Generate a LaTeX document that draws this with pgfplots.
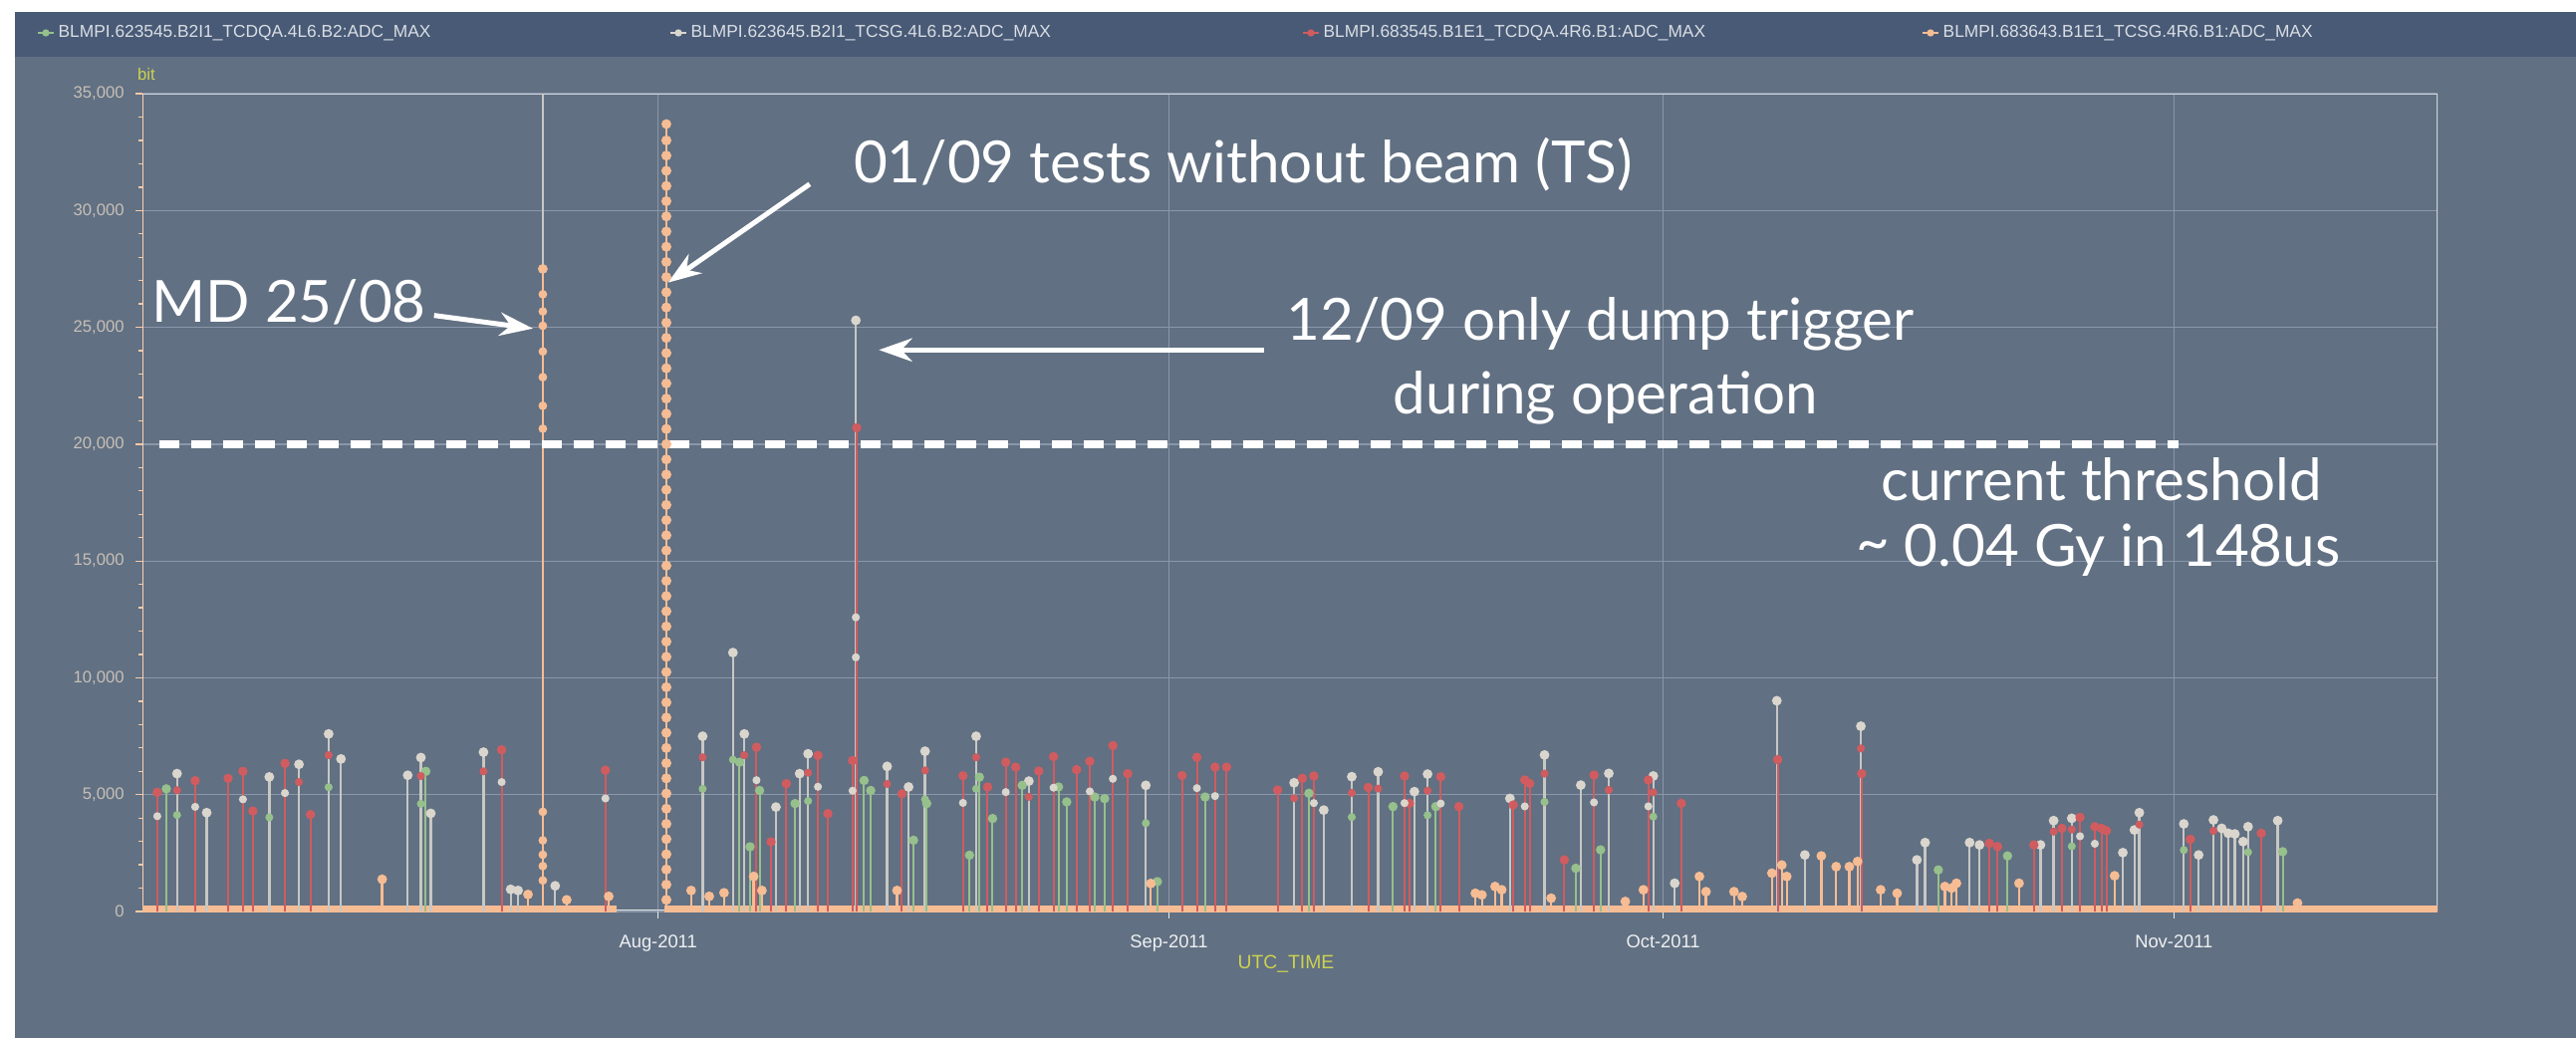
\documentclass[border=0pt]{standalone}
\usepackage{pgfplots}
\pgfplotsset{compat=1.18}
\usetikzlibrary{arrows.meta}
\usepackage{fontspec}
\setmainfont{Liberation Sans}
\newfontfamily\annot{Lato}
\definecolor{slate}{RGB}{97,112,130}
\definecolor{barblue}{RGB}{72,90,118}
\definecolor{gridc}{RGB}{138,151,170}
\definecolor{serW}{RGB}{218,214,206}
\definecolor{serR}{RGB}{208,92,96}
\definecolor{serG}{RGB}{150,192,140}
\definecolor{serO}{RGB}{246,188,148}
\definecolor{labc}{RGB}{205,210,80}
\definecolor{tickc}{RGB}{200,192,184}
\definecolor{framec}{RGB}{205,210,220}
\begin{document}
\begin{tikzpicture}
\useasboundingbox (0,0) rectangle (2586*0.3pt,-1042*0.3pt);
\fill[white] (0,0) rectangle (2586*0.3pt,-1042*0.3pt);
\fill[slate] (15*0.3pt,-12*0.3pt) rectangle (2586*0.3pt,-1042*0.3pt);
\fill[barblue] (15*0.3pt,-12*0.3pt) rectangle (2586*0.3pt,-57*0.3pt);
% legend
\foreach \xm/\col/\txt in {46/serG/{BLMPI.623545.B2I1\_TCDQA.4L6.B2:ADC\_MAX},
                           681/serW/{BLMPI.623645.B2I1\_TCSG.4L6.B2:ADC\_MAX},
                           1316/serR/{BLMPI.683545.B1E1\_TCDQA.4R6.B1:ADC\_MAX},
                           1938/serO/{BLMPI.683643.B1E1\_TCSG.4R6.B1:ADC\_MAX}}{
  \draw[\col, line width=0.8pt] (\xm*0.3pt-2.4pt,-33*0.3pt) -- (\xm*0.3pt+2.4pt,-33*0.3pt);
  \fill[\col] (\xm*0.3pt,-33*0.3pt) circle (1.1pt);
  \node[anchor=west, inner sep=0pt, text=white!80!barblue, font=\fontsize{5.2}{6}\selectfont] at (\xm*0.3pt+3.6pt,-33*0.3pt) {\txt};
}
\begin{axis}[
  at={(143*0.3pt,-915*0.3pt)}, anchor=south west,
  scale only axis, width=691.2pt, height=246.3pt,
  xmin=-31.3, xmax=108, ymin=0, ymax=35000,
  xtick={0,31,61,92}, xticklabels={Aug-2011,Sep-2011,Oct-2011,Nov-2011},
  ytick={0,5000,...,35000}, minor y tick num=4,
  scaled y ticks=false,
  /pgf/number format/assume math mode=true,
  /pgf/number format/1000 sep={,},
  yticklabel style={font=\fontsize{5}{6}\selectfont, text=tickc},
  xticklabel style={font=\fontsize{5.5}{6}\selectfont, text=white!90!slate, yshift=-1.5pt},
  axis line style={draw=none},
  tick pos=left, tick align=outside,
  major tick length=2pt, minor tick length=1.2pt,
  every tick/.style={draw=serO!80!white, line width=0.4pt},
  x tick style={draw=white!85!slate},
  grid=major, major grid style={gridc, line width=0.4pt},
  clip=true,
]
% frame
\draw[framec, line width=0.6pt] (rel axis cs:0,1) -- (rel axis cs:1,1) -- (rel axis cs:1,0);
\draw[serO!70!white, line width=0.6pt] (rel axis cs:0,0) -- (rel axis cs:0,1);
% baseline
\addplot[serO, line width=2pt, forget plot] coordinates {(-31.3,120) (-2.5,120)};
\addplot[serO, line width=2pt, forget plot] coordinates {(0.4,120) (108,120)};
\addplot[white!80!slate, line width=0.5pt, forget plot] coordinates {(-2.5,60) (0.4,60)};
% TCSG B2 (white/grey)
\addplot[ycomb, serW!85!slate, line width=0.7pt, mark=*, mark size=1.1pt, mark options={fill=serW, draw=serW}] coordinates {
(-29.2,5900) (-27.4,4230) (-23.6,5760) (-21.8,6300) (-20.0,7600) (-19.25,6530)
(-15.2,5830) (-14.4,6590) (-13.8,4200) (-10.6,6820) (-8.95,950) (-8.5,900)
(-7.0,36000) (-6.25,1100) (2.7,7500) (4.54,11080) (5.23,7600) (7.15,4470)
(8.59,5900) (9.1,6750) (12.0,25300) (13.9,6210) (15.2,5330) (16.2,6860)
(19.3,7500) (22.5,5580) (29.6,5400) (38.6,5510) (40.4,4340) (42.1,5770)
(43.7,5980) (45.9,5130) (46.7,5880) (51.7,4840) (53.8,6700) (56.0,5410)
(57.7,5910) (60.4,5800) (61.7,1210) (67.9,9020) (69.6,2420) (73.0,7930)
(76.4,2210) (76.9,2950) (79.6,2950) (80.2,2850) (83.9,2850) (84.7,3890)
(85.8,3990) (88.9,2520) (89.6,3490) (89.9,4230) (92.6,3750) (93.5,2420)
(94.4,3920) (94.9,3560) (95.3,3350) (95.7,3320) (96.2,2990) (96.5,3630) (98.3,3890)
};
% TCDQA B1 (red)
\addplot[ycomb, serR, line width=0.6pt, mark=*, mark size=1.1pt, mark options={fill=serR, draw=serR}] coordinates {
(-30.4,5100) (-28.1,5600) (-26.1,5700) (-25.2,6000) (-24.6,4300) (-22.65,6340)
(-21.1,4150) (-9.5,6920) (-3.2,6050) (5.97,7030) (6.85,2980) (7.78,5470)
(9.7,6680) (10.3,4190) (11.8,6460) (12.05,20700) (14.8,5040) (18.5,5810)
(20.0,5330) (21.1,6390) (21.7,6180) (23.1,6010) (24.0,6630) (25.4,6070)
(26.2,6430) (27.6,7100) (28.5,5900) (31.8,5820) (32.7,6600) (33.8,6180)
(34.5,6180) (37.6,5200) (39.1,5700) (39.8,5800) (43.1,5310) (45.3,5800)
(45.6,4630) (47.5,5770) (48.6,4490) (51.9,4560) (52.6,5630) (52.9,5480)
(55.0,2210) (56.8,5840) (60.1,5630) (62.1,4630) (67.95,6500) (73.05,5900)
(80.8,2920) (81.3,2780) (83.5,2850) (85.2,3560) (86.3,4030) (87.2,3630)
(87.6,3560) (87.9,3460) (93.0,3090) (97.3,3350)
};
% TCDQA B2 (green)
\addplot[ycomb, serG, line width=0.6pt, mark=*, mark size=1.1pt, mark options={fill=serG, draw=serG}] coordinates {
(-29.85,5250) (-14.1,6000) (4.94,6390) (5.58,2770) (6.16,5180) (8.31,4620)
(12.5,5610) (12.9,5180) (15.5,3050) (16.3,4620) (18.9,2410) (19.5,5750)
(20.3,3980) (22.1,5400) (24.3,5330) (24.8,4690) (26.5,4900) (27.1,4830)
(30.3,1280) (33.2,4900) (39.5,5060) (44.6,4490) (47.2,4490) (55.7,1850)
(57.2,2640) (77.7,1780) (81.9,2380) (98.6,2560)
};
% TCSG B1 (orange)
\addplot[ycomb, serO, line width=0.7pt, mark=*, mark size=1.1pt, mark options={fill=serO, draw=serO}] coordinates {
(-16.75,1380) (-7.9,730) (-7.0,27500) (-5.55,500) (-3.0,650) (0.5,33700)
(2.0,900) (3.1,650) (4.0,800) (5.8,1500) (6.3,900) (14.5,900) (29.9,1200)
(49.6,780) (50.0,710) (50.8,1070) (51.2,930) (54.2,570) (58.7,430) (59.8,930)
(63.2,1500) (63.6,850) (65.3,850) (65.8,640) (67.6,1640) (68.2,1990) (68.5,1500)
(70.6,2380) (71.5,1920) (72.3,1920) (72.8,2140) (74.2,930) (75.2,780)
(78.1,1070) (78.5,1000) (78.8,1210) (82.6,1210) (88.4,1530) (99.5,360)
};
% intermediate samples along the stems
\addplot[only marks, serR, mark=*, mark size=1.0pt] coordinates {
(-29.2,5190) (-21.8,5540) (-20.0,6690) (-14.4,5800) (-10.6,6000) (2.7,6600)
(5.23,6690) (9.1,5940) (13.9,5460) (16.2,6040) (19.3,6600) (22.5,4910)
(38.6,4850) (42.1,5080) (43.7,5260) (46.7,5170) (53.8,5900) (57.7,5200)
(60.4,5100) (73.0,6980) (84.7,3420) (85.8,3510) (89.9,3720) (94.4,3450)
};
\addplot[only marks, serG, mark=*, mark size=1.0pt] coordinates {
(-29.2,4130) (-23.6,4030) (-20.0,5320) (-14.4,4610) (2.7,5250) (4.54,6500)
(9.1,4730) (16.2,4800) (19.3,5250) (29.6,3780) (42.1,4040) (46.7,4120)
(53.8,4690) (60.4,4060) (85.8,2790) (92.6,2630) (96.5,2540)
};
\addplot[only marks, serW, mark=*, mark size=1.0pt] coordinates {
(-30.4,4080) (-28.1,4480) (-25.2,4800) (-22.65,5070) (-9.5,5540) (-3.2,4840)
(5.97,5620) (9.7,5340) (11.8,5170) (18.5,4650) (21.1,5110) (24.0,5300)
(26.2,5140) (27.6,5680) (32.7,5280) (33.8,4940) (39.8,4640) (45.3,4640)
(47.5,4620) (52.6,4500) (56.8,4670) (60.1,4500) (86.3,3220) (87.2,2900)
(12.0,12590) (12.0,10880)
};
% dots along the MD and TS spikes
\addplot[only marks, serO, mark=*, mark size=1.1pt] coordinates {
(-7.0,26414) (-7.0,25680) (-7.0,25066) (-7.0,23967) (-7.0,22867) (-7.0,21643)
(-7.0,20663) (-7.0,4267) (-7.0,3044) (-7.0,2430) (-7.0,1944) (-7.0,1330)
};
\addplot[only marks, serO, mark=*, mark size=1.3pt] coordinates {
(0.5,33000) (0.5,32350) (0.5,31700) (0.5,31050) (0.5,30400) (0.5,29750)
(0.5,29100) (0.5,28450) (0.5,27800) (0.5,27150) (0.5,26500) (0.5,25850)
(0.5,25200) (0.5,24550) (0.5,23900) (0.5,23250) (0.5,22600) (0.5,21950)
(0.5,21300) (0.5,20650) (0.5,20000) (0.5,19350) (0.5,18700) (0.5,18050)
(0.5,17400) (0.5,16750) (0.5,16100) (0.5,15450) (0.5,14800) (0.5,14150)
(0.5,13500) (0.5,12850) (0.5,12200) (0.5,11550) (0.5,10900) (0.5,10250)
(0.5,9600) (0.5,8950) (0.5,8300) (0.5,7650) (0.5,7000) (0.5,6350)
(0.5,5700) (0.5,5050) (0.5,4400) (0.5,3750) (0.5,3100) (0.5,2450)
(0.5,1800) (0.5,1150) (0.5,500)
};
% annotations
\draw[white, line width=2.2pt, dash pattern=on 6pt off 3.6pt] (axis cs:-30.3,20000) -- (axis cs:92.3,20000);
\node[text=white, font=\annot\fontsize{17.5}{20}\selectfont] at (axis cs:-22.4,26070) {MD 25/08};
\draw[white, line width=1.5pt, -{Stealth[length=10pt,width=7pt]}] (axis cs:-13.6,25510) -- (axis cs:-7.6,24950);
\node[text=white, font=\annot\fontsize{17.5}{20}\selectfont] at (axis cs:35.5,31980) {01/09 tests without beam (TS)};
\draw[white, line width=1.5pt, -{Stealth[length=10pt,width=7pt]}] (axis cs:9.2,31130) -- (axis cs:0.6,26915);
\node[text=white, font=\annot\fontsize{17.5}{20}\selectfont] at (axis cs:57.2,25155) {12/09 only dump trigger};
\node[text=white, font=\annot\fontsize{17.5}{20}\selectfont] at (axis cs:57.5,21995) {during operation};
\draw[white, line width=1.5pt, -{Stealth[length=10pt,width=7pt]}] (axis cs:36.8,24034) -- (axis cs:13.4,24034);
\node[text=white, font=\annot\fontsize{17.5}{20}\selectfont] at (axis cs:87.6,18480) {current threshold};
\node[text=white, font=\annot\fontsize{17.5}{20}\selectfont] at (axis cs:87.4,15457) {\raisebox{0.15ex}{\textasciitilde} 0.04 Gy in 148us};
\end{axis}
\node[text=labc, font=\fontsize{5}{6}\selectfont, anchor=base] at (147*0.3pt,-80*0.3pt) {bit};
\node[text=labc, font=\fontsize{5.8}{7}\selectfont] at (1291*0.3pt,-968*0.3pt) {UTC\_TIME};
\end{tikzpicture}
\end{document}
